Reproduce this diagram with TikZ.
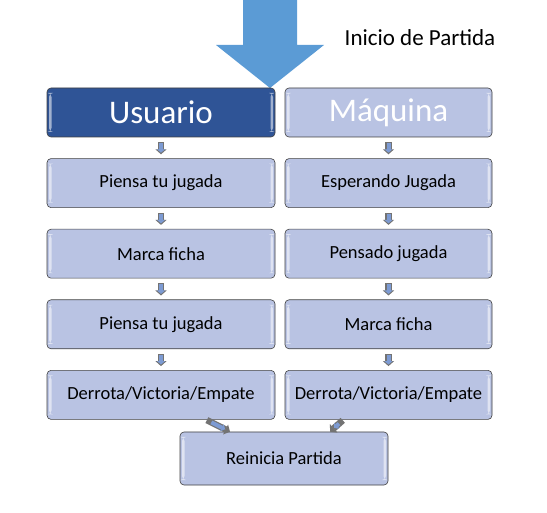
\documentclass[tikz,border=0pt]{standalone}
\usepackage{fontspec}
\setmainfont{Carlito}
\usepackage{tikz}
\usetikzlibrary{arrows.meta,calc}
\usetikzlibrary{positioning}

\definecolor{azulosc}{HTML}{2F5496}
\definecolor{lila}{HTML}{B9C3E3}
\definecolor{azulflecha}{HTML}{5B9BD5}
\definecolor{azulchica}{HTML}{7D9BD3}

\begin{document}
\begin{tikzpicture}[x=1pt,y=-1pt,node distance=21pt,semithick]
 \tikzstyle{caja}=[draw=black!75, rounded corners=4pt, fill=lila, font=\fontsize{18.5}{20}\selectfont,
   minimum height=49pt, inner sep=2pt,
   path picture={
     \fill[white,opacity=0.55] ([xshift=2pt,yshift=-5pt]path picture bounding box.north west) rectangle ([xshift=4.5pt,yshift=5pt]path picture bounding box.south west);
     \fill[white,opacity=0.55] ([xshift=-2pt,yshift=-5pt]path picture bounding box.north east) rectangle ([xshift=-4.5pt,yshift=5pt]path picture bounding box.south east);}]
 \tikzstyle{izq}=[caja, minimum width=228pt]
 \tikzstyle{der}=[caja, minimum width=207pt]
 \tikzstyle{titulo}=[font=\fontsize{33}{36}\selectfont, text=white]
 \tikzstyle{flecha}=[draw=black!55, line width=6.5pt, shorten <=5pt, shorten >=4pt,
   -{Triangle[length=5pt,width=11pt]},
   postaction={draw=azulchica, line width=4pt, shorten <=6pt, shorten >=5.6pt, -{Triangle[length=3.4pt,width=8pt]}}]
 \useasboundingbox (0,0) rectangle (547,513);
 % flecha de inicio
 \fill[azulflecha] (243,0) -- (297,0) -- (297,45) -- (324,45) -- (270,88) -- (216,45) -- (243,45) -- cycle;
 \node[font=\fontsize{23}{26}\selectfont] (inicio) at (420,38) {Inicio de Partida};
 % columna usuario
 \node[izq, titulo, fill=azulosc] (U) at (161,112.5) {Usuario};
 \node[izq] (U1) [below=of U] {Piensa tu jugada};
 \node[izq] (U2) [below=of U1] {Marca ficha};
 \node[izq] (U3) [below=of U2] {Piensa tu jugada};
 \node[izq] (U4) [below=of U3] {Derrota/Victoria/Empate};
 % columna maquina
 \node[der, titulo] (M) at (388.5,112.5) {Máquina};
 \node[der] (M1) [below=of M] {Esperando Jugada};
 \node[der] (M2) [below=of M1] {Pensado jugada};
 \node[der] (M3) [below=of M2] {Marca ficha};
 \node[der] (M4) [below=of M3] {Derrota/Victoria/Empate};
 % final
 \node[caja, minimum width=208pt, minimum height=53pt] (R) at (284,458.5) {Reinicia Partida};
 \path
   (U) edge[flecha] (U1)
   (U1) edge[flecha] (U2)
   (U2) edge[flecha] (U3)
   (U3) edge[flecha] (U4)
   (M) edge[flecha] (M1)
   (M1) edge[flecha] (M2)
   (M2) edge[flecha] (M3)
   (M3) edge[flecha] (M4);
 \draw[flecha, shorten <=1pt, shorten >=0pt] ([xshift=45pt]U4.south) -- ([xshift=-54pt]R.north);
 \draw[flecha, shorten <=1pt, shorten >=0pt] ([xshift=-45pt]M4.south) -- ([xshift=46pt]R.north);
\end{tikzpicture}
\end{document}
